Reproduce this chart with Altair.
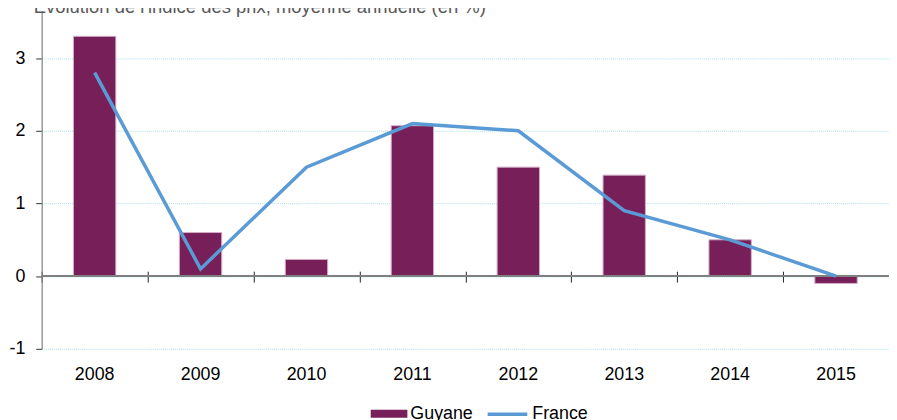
import altair as alt
import pandas as pd

years = ["2008", "2009", "2010", "2011", "2012", "2013", "2014", "2015"]
guyane = [3.30, 0.60, 0.23, 2.07, 1.50, 1.39, 0.50, -0.10]
france = [2.8, 0.1, 1.5, 2.1, 2.0, 0.9, 0.5, 0.0]
y_ticks = [-1, 0, 1, 2, 3]
title_text = "Évolution de l'indice des prix, moyenne annuelle (en %)"

df = pd.DataFrame({"annee": years, "guyane": guyane, "france": france,
                   "s_g": ["Guyane"] * len(years), "s_f": ["France"] * len(years)})

FONT = "Liberation Sans"
H = 341
W = 855
ydom = [-1, 3.65]
zero_off = -(0 - ydom[0]) / (ydom[1] - ydom[0]) * H

xscale = alt.Scale(domain=years, paddingInner=0, paddingOuter=0)
yscale = alt.Scale(domain=ydom, nice=False, zero=False)
yaxis = alt.Axis(title=None, orient="left", values=y_ticks,
                 labelExpr="'' + datum.value",
                 tickSize=6, tickColor="#333333",
                 domainColor="#808080", domainWidth=1.2,
                 labelFont=FONT, labelFontSize=18, labelColor="#000000",
                 labelPadding=11, grid=True, gridColor="#A6E3EF",
                 gridDash=[1, 1], gridWidth=1)

base = alt.Chart(df)

bars = base.mark_bar(
    width=alt.RelativeBandSize(0.4), stroke="#D2AFC6", strokeWidth=1
).encode(
    x=alt.X("annee:N", scale=xscale, sort=years,
            axis=alt.Axis(title=None, orient="bottom", domain=False, ticks=False,
                          labelAngle=0, labelFont=FONT, labelFontSize=18,
                          labelColor="#000000", labelPadding=17, grid=False)),
    y=alt.Y("guyane:Q", scale=yscale, axis=yaxis),
    fill=alt.Fill("s_g:N", scale=alt.Scale(domain=["Guyane"], range=["#771F59"]),
                  legend=alt.Legend(title=None, orient="none", legendX=332, legendY=388,
                                    symbolType="M-1,-0.216H1V0.216H-1Z", symbolSize=1369,
                                    symbolStrokeWidth=0, labelFont=FONT, labelFontSize=18,
                                    labelColor="#000000", labelOffset=3)),
)

zero = base.mark_rule(color="#808080", strokeWidth=1.6).encode(
    y=alt.datum(0, type="quantitative", scale=yscale, axis=yaxis)
)

tick_axis = base.mark_bar(opacity=0).encode(
    x=alt.X("annee:N", scale=xscale, sort=years,
            axis=alt.Axis(title=None, orient="bottom", domain=False, labels=False,
                          grid=False, tickBand="extent", tickSize=11,
                          tickColor="#222222", offset=zero_off - 5)),
    y=alt.Y("guyane:Q", scale=yscale, axis=yaxis),
)

line = base.mark_line(strokeWidth=3.5).encode(
    x=alt.X("annee:N", scale=xscale, sort=years, axis=None),
    y=alt.Y("france:Q", scale=yscale, axis=yaxis),
    stroke=alt.Stroke("s_f:N", scale=alt.Scale(domain=["France"], range=["#5B9BD5"]),
                      legend=alt.Legend(title=None, orient="none", legendX=448, legendY=385,
                                        symbolType="stroke", symbolSize=1600,
                                        symbolStrokeWidth=3.5, labelFont=FONT,
                                        labelFontSize=18, labelColor="#000000",
                                        labelOffset=3)),
)

title = alt.Chart(alt.Data(values=[{"t": title_text}])).mark_text(
    align="left", baseline="alphabetic", font=FONT, fontSize=18.6, color="#595959"
).encode(text="t:N", x=alt.value(-8), y=alt.value(2))

chart = alt.layer(bars, tick_axis, zero, line, title).resolve_axis(
    x="independent"
).resolve_scale(fill="independent", stroke="independent").properties(
    width=W, height=H,
    autosize=alt.AutoSizeParams(type="none"),
    padding={"left": 34, "top": 1, "right": 0, "bottom": 80},
).configure_view(stroke=None)

chart.save("out.html", embed_options={"renderer": "svg", "actions": False})
